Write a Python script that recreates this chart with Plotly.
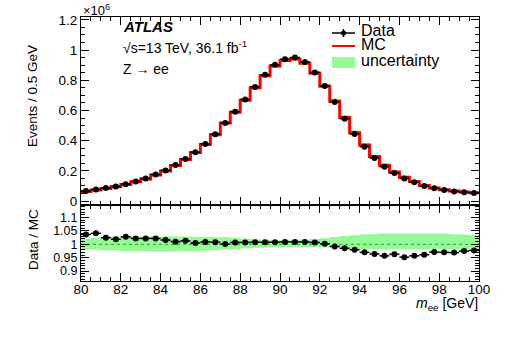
import numpy as np
import plotly.graph_objects as go
from plotly.subplots import make_subplots

# ---- data (values in units of 10^6 events per 0.5 GeV) ----
bin_edges = [80 + 0.5 * i for i in range(41)]
bin_centers = [80.25 + 0.5 * i for i in range(40)]

data_vals = [0.066, 0.077, 0.086, 0.097, 0.112, 0.130, 0.150, 0.176, 0.203, 0.238,
             0.279, 0.323, 0.378, 0.442, 0.517, 0.592, 0.673, 0.756, 0.836, 0.902,
             0.939, 0.950, 0.921, 0.852, 0.762, 0.656, 0.545, 0.444, 0.360, 0.285,
             0.227, 0.185, 0.150, 0.124, 0.099, 0.084, 0.073, 0.064, 0.058, 0.053]

ratio_vals = [1.037, 1.041, 1.025, 1.019, 1.028, 1.022, 1.022, 1.022, 1.016, 1.010,
              1.013, 1.005, 1.009, 1.008, 1.001, 1.007, 1.007, 1.008, 1.008, 1.008,
              1.009, 1.009, 1.009, 1.007, 1.002, 0.992, 0.985, 0.980, 0.970, 0.964,
              0.957, 0.963, 0.952, 0.957, 0.961, 0.971, 0.970, 0.969, 0.975, 0.977]

band_up = [1.020, 1.024, 1.027, 1.029, 1.030, 1.031, 1.031, 1.031, 1.031, 1.030,
           1.029, 1.028, 1.028, 1.027, 1.026, 1.025, 1.022, 1.019, 1.017, 1.016,
           1.016, 1.016, 1.018, 1.020, 1.023, 1.027, 1.031, 1.034, 1.037, 1.039,
           1.040, 1.041, 1.042, 1.042, 1.042, 1.041, 1.040, 1.038, 1.036, 1.034]
band_lo = [0.982, 0.980, 0.978, 0.976, 0.974, 0.973, 0.972, 0.972, 0.972, 0.973,
           0.974, 0.975, 0.976, 0.978, 0.980, 0.981, 0.984, 0.986, 0.988, 0.989,
           0.990, 0.991, 0.991, 0.990, 0.989, 0.987, 0.985, 0.984, 0.983, 0.982,
           0.982, 0.981, 0.981, 0.981, 0.981, 0.981, 0.982, 0.982, 0.982, 0.982]

x_ticks = [80, 82, 84, 86, 88, 90, 92, 94, 96, 98, 100]

data = np.array(data_vals)
ratio = np.array(ratio_vals)
mc = data / ratio
data_err = np.sqrt(data * 1e6) / 1e6
ratio_err = data_err / mc

GREEN = "#96fa96"

def step_band(lo, hi):
    xs, ys = [], []
    for i in range(len(lo)):
        xs += [bin_edges[i], bin_edges[i + 1]]
        ys += [hi[i], hi[i]]
    for i in reversed(range(len(lo))):
        xs += [bin_edges[i + 1], bin_edges[i]]
        ys += [lo[i], lo[i]]
    return xs, ys

fig = make_subplots(rows=2, cols=1, shared_xaxes=True, vertical_spacing=0,
                    row_heights=[0.712, 0.288])

bx, by = step_band(list(mc * np.array(band_lo)), list(mc * np.array(band_up)))
fig.add_trace(go.Scatter(x=bx, y=by, fill="toself", fillcolor=GREEN, line=dict(width=0),
                         mode="lines", hoverinfo="skip"), row=1, col=1)
fig.add_trace(go.Scatter(x=bin_edges, y=list(mc) + [mc[-1]], mode="lines",
                         line=dict(color="#ff0000", width=3, shape="hv")), row=1, col=1)
fig.add_trace(go.Scatter(x=bin_centers, y=data_vals, mode="markers",
                         marker=dict(color="black", size=6),
                         error_x=dict(type="constant", value=0.25, width=0, color="black", thickness=1.5),
                         error_y=dict(type="data", array=list(data_err), width=0, color="black", thickness=1.5)),
              row=1, col=1)

rx, ry = step_band(band_lo, band_up)
fig.add_trace(go.Scatter(x=rx, y=ry, fill="toself", fillcolor=GREEN, line=dict(width=0),
                         mode="lines", hoverinfo="skip"), row=2, col=1)
fig.add_trace(go.Scatter(x=[80, 100], y=[1, 1], mode="lines",
                         line=dict(color="#22a022", width=1, dash="dot")), row=2, col=1)
fig.add_trace(go.Scatter(x=bin_centers, y=ratio_vals, mode="markers",
                         marker=dict(color="black", size=6),
                         error_x=dict(type="constant", value=0.25, width=0, color="black", thickness=1.5),
                         error_y=dict(type="data", array=list(ratio_err), width=0, color="black", thickness=1.5)),
              row=2, col=1)

W, H = 505, 344
L, R, T, B = 81, 26, 17, 63
pw, ph = W - L - R, H - T - B

def px(x):  # screen pixel -> paper
    return (x - L) / pw

def py(y):
    return (H - B - y) / ph

FONT = "Liberation Sans, Arial, Helvetica, sans-serif"
axis_common = dict(showline=True, linecolor="black", linewidth=1, mirror="allticks",
                   ticks="inside", tickcolor="black", showgrid=False, zeroline=False,
                   automargin=False)

fig.update_xaxes(range=[80, 100], tickvals=x_ticks, ticklen=8, ticklabelstandoff=-4,
                 tickfont=dict(family=FONT, size=13.5, color="black"),
                 minor=dict(ticks="inside", dtick=0.5, ticklen=4, tickcolor="black"),
                 **axis_common)
fig.update_xaxes(showticklabels=False, row=1, col=1)
fig.update_yaxes(range=[-0.026, 1.219], tickvals=[0, 0.2, 0.4, 0.6, 0.8, 1.0, 1.2],
                 ticktext=["0", "0.2", "0.4", "0.6", "0.8", "1", "1.2"], ticklen=8,
                 tickfont=dict(family=FONT, size=13.5, color="black"),
                 minor=dict(ticks="inside", dtick=0.05, ticklen=4, tickcolor="black"),
                 row=1, col=1, **axis_common)
fig.update_yaxes(range=[0.863, 1.147], tickvals=[0.9, 0.95, 1.0, 1.05, 1.1],
                 ticktext=["0.9", "0.95", "1", "1.05", "1.1"], ticklen=8,
                 tickfont=dict(family=FONT, size=12.5, color="black"),
                 minor=dict(ticks="inside", dtick=0.01, ticklen=4, tickcolor="black"),
                 row=2, col=1, **axis_common)

ann = []
def text(x, y, s, size=14, xanchor="left", yanchor="middle", angle=0):
    ann.append(dict(x=px(x), y=py(y), xref="paper", yref="paper", text=s, showarrow=False,
                    xanchor=xanchor, yanchor=yanchor, textangle=angle,
                    font=dict(family=FONT, size=size, color="black")))

text(33, 96, "Events / 0.5 GeV", size=13.5, xanchor="center", angle=-90)
text(33, 240, "Data / MC", size=13.5, xanchor="center", angle=-90)
text(480, 304, "<i>m</i><sub>ee</sub> [GeV]", size=14, xanchor="right")
text(81, 10, "×10<sup>6</sup>", size=13)
text(121, 27, "<b><i>ATLAS</i></b>", size=15)
text(121, 47, "√s=13 TeV, 36.1 fb<sup>-1</sup>", size=14)
text(121, 69, "Z → ee", size=14)
text(359, 31, "Data", size=16)
text(359, 44, "MC", size=16)
text(359, 61, "uncertainty", size=16)

shapes = [
    dict(type="line", xref="paper", yref="paper", x0=px(332), x1=px(355), y0=py(33), y1=py(33),
         line=dict(color="black", width=1.5)),
    dict(type="line", xref="paper", yref="paper", x0=px(343.5), x1=px(343.5), y0=py(29), y1=py(37),
         line=dict(color="black", width=1.5)),
    dict(type="circle", xref="paper", yref="paper", x0=px(341), x1=px(346), y0=py(35.5), y1=py(30.5),
         fillcolor="black", line=dict(color="black", width=0)),
    dict(type="line", xref="paper", yref="paper", x0=px(332), x1=px(355), y0=py(46), y1=py(46),
         line=dict(color="#ff0000", width=2)),
    dict(type="rect", xref="paper", yref="paper", x0=px(332), x1=px(355), y0=py(68), y1=py(57),
         fillcolor=GREEN, line=dict(width=0)),
]

fig.update_layout(width=W, height=H, margin=dict(l=L, r=R, t=T, b=B, autoexpand=False),
                  plot_bgcolor="white", paper_bgcolor="white", showlegend=False,
                  annotations=ann, shapes=shapes, font=dict(family=FONT))

# remove the default 8px page margin so the figure fills the window exactly
fig.write_html("out.html", config={"displayModeBar": False, "staticPlot": True},
               post_script="document.body.style.margin='0';")
